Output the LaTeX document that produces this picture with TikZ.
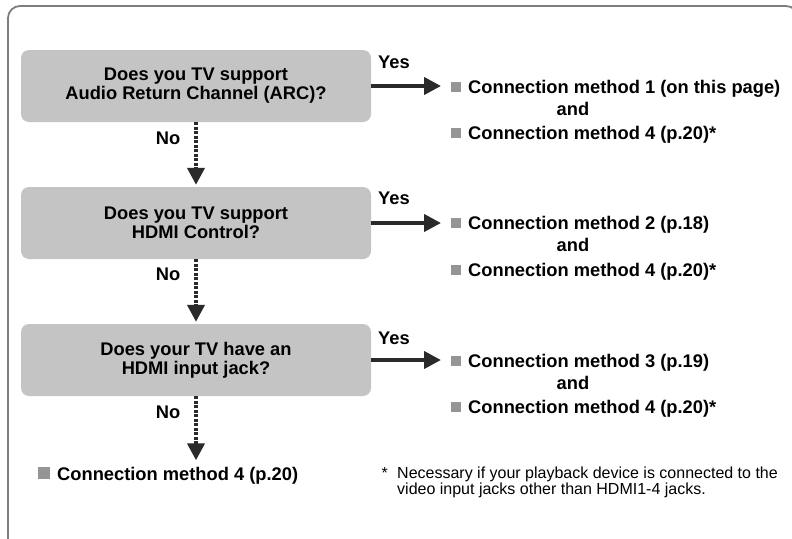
\documentclass[tikz,border=0pt]{standalone}
\usepackage{fontspec}
\setmainfont{Liberation Sans}
\usetikzlibrary{arrows.meta}
\definecolor{boxgray}{HTML}{C4C4C4}
\definecolor{inkgray}{HTML}{2A2A2A}
\definecolor{framegray}{HTML}{7E7E7E}
\definecolor{sqgray}{HTML}{959595}
\newcommand{\sqmark}[1][10]{\textcolor{sqgray}{\raisebox{1.5pt}{\rule{#1pt}{#1pt}}}\hspace{7pt}}
\begin{document}
\begin{tikzpicture}[x=1pt,y=-1pt,
  qbox/.style={fill=boxgray, rounded corners=8pt, minimum width=350pt, minimum height=72pt,
    inner sep=0pt, align=center, font=\bfseries\fontsize{18.3}{19}\selectfont, text=black},
  lbl/.style={inner sep=0pt, font=\bfseries\fontsize{18.3}{19}\selectfont,
    text height=13pt, text depth=0pt, text=black},
  note/.style={inner sep=0pt, font=\fontsize{16}{16}\selectfont, align=left, text=black},
  yesarr/.style={draw=inkgray, line width=4pt, -{Triangle[width=17pt,length=17pt]}, shorten >=10pt},
  noarr/.style={draw=inkgray, line width=4pt, dash pattern=on 3pt off 1.5pt,
    -{Triangle[width=17pt,length=17pt]}},
]
\useasboundingbox (0,0) rectangle (792,538);
\begin{scope}
  \clip (0,0) rectangle (792,538);
  \draw[framegray, line width=1.8pt, rounded corners=12pt] (8,6) rectangle (798,560);
\end{scope}

% question boxes
\node[qbox] (q1) at (196,86) {Does you TV support\\Audio Return Channel (ARC)?};
\node[qbox] (q2) at (196,223) {Does you TV support\\HDMI Control?};
\node[qbox] (q3) at (196,360) {Does your TV have an\\HDMI input jack?};

% yes labels
\node[lbl] (y1) at (394,62) {Yes};
\node[lbl] (y2) at (394,198) {Yes};
\node[lbl] (y3) at (394,338) {Yes};

% no labels
\node[lbl] (no1) at (168,138) {No};
\node[lbl] (no2) at (168,274) {No};
\node[lbl] (no3) at (168,412) {No};

% right-side results
\node[lbl, anchor=west] (m1) at (451,87) {\sqmark Connection method 1 (on this page)};
\node[lbl] (a1) at (573,109) {and};
\node[lbl, anchor=west] (n1) at (451,133) {\sqmark Connection method 4 (p.20)*};

\node[lbl, anchor=west] (m2) at (451,223) {\sqmark Connection method 2 (p.18)};
\node[lbl] (a2) at (573,245) {and};
\node[lbl, anchor=west] (n2) at (451,270) {\sqmark Connection method 4 (p.20)*};

\node[lbl, anchor=west] (m3) at (451,361) {\sqmark Connection method 3 (p.19)};
\node[lbl] (a3) at (573,383) {and};
\node[lbl, anchor=west] (n3) at (451,407) {\sqmark Connection method 4 (p.20)*};

% final result
\node[lbl, anchor=west] (f4) at (38,474) {\sqmark[12]Connection method 4 (p.20)};

% footnote
\node[note, anchor=north west] (fn) at (397,467)
  {Necessary if your playback device is connected to the\\video input jacks other than HDMI1-4 jacks.};
\node[note, anchor=north east] (st) at ([xshift=-9pt]fn.north west) {*};

% connectors
\draw[yesarr] (q1.east) -- (q1.east -| m1.west);
\draw[yesarr] (q2.east) -- (q2.east -| m2.west);
\draw[yesarr] (q3.east) -- (q3.east -| m3.west);
\draw[noarr, shorten >=2pt] (q1.south) -- (q2.north);
\draw[noarr, shorten >=2pt] (q2.south) -- (q3.north);
\draw[noarr, shorten >=7pt] (q3.south) -- (q3.south |- f4.north);
\end{tikzpicture}
\end{document}
